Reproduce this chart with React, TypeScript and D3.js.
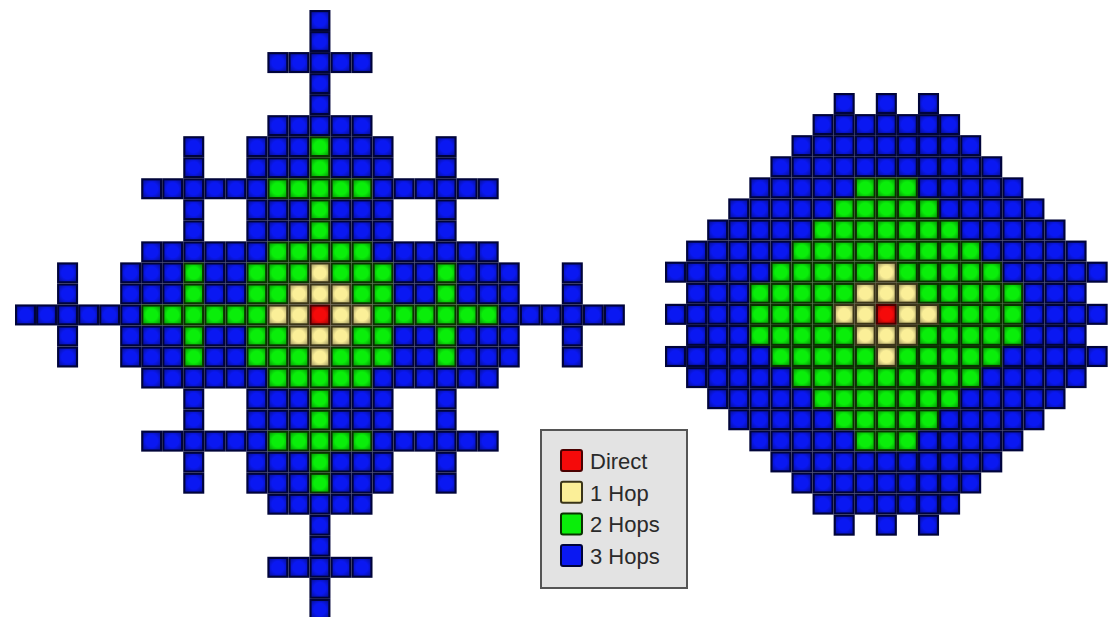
import React from "react";
import * as d3 from "d3";

// Left figure: rows from top (dy=+14) to bottom (dy=-14), columns dx=-14..14
const leftGrid: string[] = [
  "..............B..............",
  "..............B..............",
  "............BBBBB............",
  "..............B..............",
  "..............B..............",
  "............BBBBB............",
  "........B..BBBGBBB..B........",
  "........B..BBBGBBB..B........",
  "......BBBBBBGGGGGBBBBBB......",
  "........B..BBBGBBB..B........",
  "........B..BBBGBBB..B........",
  "......BBBBBBGGGGGBBBBBB......",
  "..B..BBBGBBGGGYGGGBBGBBB..B..",
  "..B..BBBGBBGGYYYGGBBGBBB..B..",
  "BBBBBBGGGGGGYYRYYGGGGGGBBBBBB",
  "..B..BBBGBBGGYYYGGBBGBBB..B..",
  "..B..BBBGBBGGGYGGGBBGBBB..B..",
  "......BBBBBBGGGGGBBBBBB......",
  "........B..BBBGBBB..B........",
  "........B..BBBGBBB..B........",
  "......BBBBBBGGGGGBBBBBB......",
  "........B..BBBGBBB..B........",
  "........B..BBBGBBB..B........",
  "............BBBBB............",
  "..............B..............",
  "..............B..............",
  "............BBBBB............",
  "..............B..............",
  "..............B..............",
];

// Right figure: rows dy=+10..-10, columns dx=-10..10
const rightGrid: string[] = [
  "........B.B.B........",
  ".......BBBBBBB.......",
  "......BBBBBBBBB......",
  ".....BBBBBBBBBBB.....",
  "....BBBBBGGGBBBBB....",
  "...BBBBBGGGGGBBBBB...",
  "..BBBBBGGGGGGGBBBBB..",
  ".BBBBBGGGGGGGGGBBBBB.",
  "BBBBBGGGGGYGGGGGBBBBB",
  ".BBBGGGGGYYYGGGGGBBB.",
  "BBBBGGGGYYRYYGGGGBBBB",
  ".BBBGGGGGYYYGGGGGBBB.",
  "BBBBBGGGGGYGGGGGBBBBB",
  ".BBBBBGGGGGGGGGBBBBB.",
  "..BBBBBGGGGGGGBBBBB..",
  "...BBBBBGGGGGBBBBB...",
  "....BBBBBGGGBBBBB....",
  ".....BBBBBBBBBBB.....",
  "......BBBBBBBBB......",
  ".......BBBBBBB.......",
  "........B.B.B........",
];

const legendKeys = ["R", "Y", "G", "B"];
const legendLabels = ["Direct", "1 Hop", "2 Hops", "3 Hops"];

const colorOf: Record<string, string> = {
  R: "#f50a0a",
  Y: "#fbef98",
  G: "#0aee0a",
  B: "#0a18f2",
};
const edgeOf: Record<string, string> = {
  R: "#4a0000",
  Y: "#3a3418",
  G: "#0a3200",
  B: "#00043a",
};

type Cell = { r: number; c: number; k: string };

function cellsOf(grid: string[]): Cell[] {
  const out: Cell[] = [];
  grid.forEach((row, r) => {
    row.split("").forEach((k, c) => {
      if (k !== ".") out.push({ r, c, k });
    });
  });
  return out;
}

function GridFigure({ grid, x0, y0, pitch }: { grid: string[]; x0: number; y0: number; pitch: number }) {
  const n = grid.length;
  const m = grid[0].length;
  const xs = d3.scaleLinear().domain([0, m]).range([x0, x0 + m * pitch]);
  const ys = d3.scaleLinear().domain([0, n]).range([y0, y0 + n * pitch]);
  const cells = cellsOf(grid);
  return (
    <g>
      {cells.map((d, i) => (
        <rect
          key={i}
          x={xs(d.c) + 1.1}
          y={ys(d.r) + 1.1}
          width={xs(d.c + 1) - xs(d.c) - 2.2}
          height={ys(d.r + 1) - ys(d.r) - 2.2}
          fill={colorOf[d.k]}
          stroke={edgeOf[d.k]}
          strokeWidth={2.2}
        />
      ))}
      {cells.map((d, i) => (
        <rect
          key={"s" + i}
          x={xs(d.c) + 2.2}
          y={ys(d.r) + 2.2}
          width={xs(d.c + 1) - xs(d.c) - 4.4}
          height={ys(d.r + 1) - ys(d.r) - 4.4}
          fill="url(#shade)"
        />
      ))}
    </g>
  );
}

export default function App() {
  const ly = d3.scaleLinear().domain([0, 1]).range([450, 481.7]);
  return (
    <svg
      width={1114}
      height={617}
      style={{ position: "absolute", left: 0, top: 0, background: "#fff" }}
    >
      <defs>
        <radialGradient id="shade" cx="50%" cy="50%" r="70%">
          <stop offset="50%" stopColor="#000" stopOpacity={0} />
          <stop offset="100%" stopColor="#000" stopOpacity={0.35} />
        </radialGradient>
      </defs>
      <rect x={0} y={0} width={1114} height={617} fill="#fff" />
      <GridFigure grid={leftGrid} x0={15} y0={10} pitch={21.03} />
      <GridFigure grid={rightGrid} x0={665} y0={93} pitch={21.08} />
      <g>
        <rect x={541} y={430} width={146} height={158} fill="#e3e3e3" stroke="#555" strokeWidth={2} />
        {legendKeys.map((k, i) => (
          <g key={k}>
            <rect
              x={561}
              y={ly(i)}
              width={21}
              height={21}
              fill={colorOf[k]}
              stroke={edgeOf[k]}
              strokeWidth={2}
              rx={2}
            />
            <text
              x={590}
              y={ly(i) + 19}
              fontFamily="Liberation Sans, Arial, sans-serif"
              fontSize={22}
              fill="#2a2a2a"
            >
              {legendLabels[i]}
            </text>
          </g>
        ))}
      </g>
    </svg>
  );
}
